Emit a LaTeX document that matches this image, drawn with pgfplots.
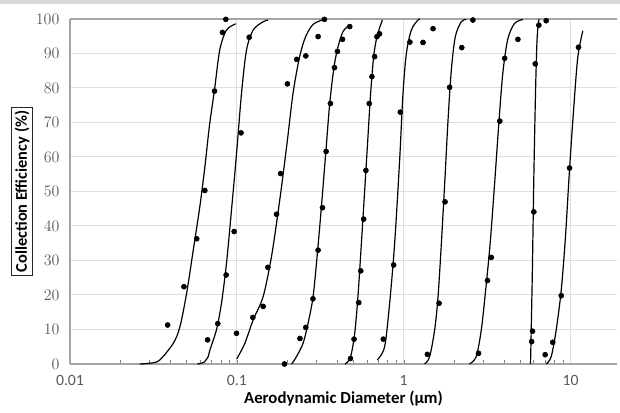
\documentclass[border=0pt]{standalone}
\usepackage{pgfplots}
\pgfplotsset{compat=1.18}
\usepackage{fontspec}
\setmainfont{Carlito}
\definecolor{tickc}{RGB}{89,89,89}
\definecolor{gridc}{RGB}{222,222,222}
\definecolor{axc}{RGB}{165,165,165}
\definecolor{band}{RGB}{215,215,215}
\begin{document}
\begin{tikzpicture}
\useasboundingbox (0,0) rectangle (465pt,309.75pt);
\fill[band] (0,306.75pt) rectangle (465pt,309.75pt);
\begin{axis}[
  at={(52.5pt,36.75pt)}, anchor=south west,
  scale only axis, width=410.25pt, height=258.75pt,
  xmode=log, xmin=0.01, xmax=19, ymin=0, ymax=100,
  ytick={0,10,...,100},
  xtick={0.01,0.1,1,10}, xticklabels={0.01,0.1,1,10},
  minor xtick={},
  major tick length=0pt,
  grid=major, major grid style={draw=gridc, line width=0.75pt},
  axis x line*=bottom, axis y line*=left,
  axis line style={-, draw=axc, line width=0.8pt},
  tick label style={font=\fontsize{11.8}{13}\selectfont, text=tickc},
  yticklabel style={anchor=east, xshift=-4.4pt},
  xticklabel style={anchor=north, yshift=-5.0pt},
  xlabel={Aerodynamic Diameter (µm)},
  ylabel={Collection Efficiency (\%)},
  xlabel style={font=\fontsize{12.6}{14}\selectfont\bfseries, at={(axis description cs:0.5,-0.1014)}, anchor=center},
  ylabel style={font=\fontsize{12.3}{14}\selectfont\bfseries, at={(axis description cs:-0.0878,0.5)}, anchor=center, draw=black!85, line width=0.6pt, inner sep=2.2pt},
  clip=false,
]
\draw[axc, line width=0.8pt] (rel axis cs:0,1) -- (rel axis cs:1,1);
% fitted curves
\addplot[black, line width=0.9pt, smooth, tension=0.5] coordinates {
(0.0262,0) (0.031,0.3) (0.0346,1.2) (0.0416,6.0) (0.0456,10.8) (0.050,20.5) (0.0548,33.0) (0.060,45.6) (0.0643,57.0) (0.0685,69) (0.0735,79.5) (0.079,91) (0.0867,96.8) (0.0986,98.6)};
\addplot[black, line width=0.9pt, smooth, tension=0.5] coordinates {
(0.058,0) (0.0635,0.5) (0.0673,2.1) (0.0689,4) (0.0755,9.9) (0.0809,17.6) (0.0867,29.2) (0.0929,44.6) (0.0996,61) (0.1067,78.5) (0.1143,91) (0.1253,96.8) (0.1437,99.2) (0.154,99.7)};
\addplot[black, line width=0.9pt, smooth, tension=0.5] coordinates {
(0.100,1.5) (0.1117,6) (0.1253,12.8) (0.1437,19.5) (0.1613,31.1) (0.1808,47.5) (0.200,64) (0.2173,78.5) (0.238,89.1) (0.259,95) (0.2875,98.5) (0.335,99.9)};
\addplot[black, line width=0.9pt, smooth, tension=0.5] coordinates {
(0.213,0) (0.2275,2.1) (0.2494,6) (0.2673,11.8) (0.2864,19.5) (0.304,32.1) (0.3214,45.6) (0.341,61) (0.3606,75.6) (0.3828,86.2) (0.4045,92) (0.4335,96.4) (0.4753,98.3)};
\addplot[black, line width=0.9pt, smooth, tension=0.5] coordinates {
(0.445,0) (0.47,1.0) (0.4865,3.1) (0.509,8.9) (0.532,19.5) (0.558,35) (0.584,50.4) (0.611,65.9) (0.634,78.5) (0.661,89.1) (0.692,94.9) (0.745,99.7)};
\addplot[black, line width=0.9pt, smooth, tension=0.5] coordinates {
(0.695,1.2) (0.769,5) (0.824,17.6) (0.883,35) (0.946,59.1) (0.991,78.5) (1.038,90) (1.112,96.8) (1.218,99.7) (1.25,99.9)};
\addplot[black, line width=0.9pt, smooth, tension=0.5] coordinates {
(1.336,0) (1.431,2.1) (1.534,9.9) (1.607,19.5) (1.683,35) (1.762,52.4) (1.845,70.7) (1.931,85.2) (2.04,94.9) (2.215,99.2) (2.373,99.9)};
\addplot[black, line width=0.9pt, smooth, tension=0.5] coordinates {
(2.48,0) (2.72,2.1) (2.92,9.9) (3.10,21.4) (3.30,35) (3.51,52.4) (3.72,69.8) (3.93,84.3) (4.21,94.2) (4.62,98.7) (5.18,99.9)};
\addplot[black, line width=0.9pt, smooth, tension=0.5] coordinates {
(5.76,0) (5.90,25.4) (6.03,54.4) (6.17,78.5) (6.29,93) (6.41,98.7) (6.5,99.9)};
\addplot[black, line width=0.9pt, smooth, tension=0.5] coordinates {
(7.14,0) (7.66,2.1) (8.21,9.9) (8.80,21.4) (9.33,36.9) (9.86,56.2) (10.47,74.6) (11.07,89.1) (11.86,96.6)};
% measured points
\addplot[only marks, mark=*, mark size=1.9pt, black] coordinates {
(0.0385,11.3) (0.0482,22.4) (0.0575,36.3) (0.0643,50.3) (0.0735,79.1) (0.082,96.1) (0.0859,99.9)
(0.0668,7.0) (0.0769,11.7) (0.0863,25.8) (0.0964,38.4) (0.0995,8.9) (0.106,67.0) (0.1186,94.7)
(0.1247,13.5) (0.1438,16.7) (0.1535,28.0) (0.173,43.4) (0.183,55.2) (0.201,81.2) (0.2287,88.3) (0.259,89.3) (0.307,94.9) (0.335,99.9) (0.193,0)
(0.239,7.4) (0.259,10.6) (0.286,18.9) (0.307,33.0) (0.326,45.3) (0.343,61.6) (0.364,75.5) (0.385,85.9) (0.401,90.6) (0.43,94.1) (0.475,97.8)
(0.48,1.6) (0.504,7.2) (0.538,17.8) (0.553,27.0) (0.576,42.0) (0.594,56.1) (0.622,75.5) (0.645,83.3) (0.670,89.1) (0.692,94.9) (0.717,95.7)
(0.755,7.2) (0.871,28.7) (0.955,73.0) (1.09,93.3) (1.306,93.2) (1.50,97.2)
(1.387,2.8) (1.63,17.6) (1.77,47.0) (1.885,80.2) (2.23,91.7) (2.60,99.7)
(2.81,3.1) (3.18,24.2) (3.35,30.9) (3.77,70.4) (4.03,88.6) (4.84,94.1)
(5.85,6.5) (5.92,9.5) (6.03,44.1) (6.15,87.0) (6.46,98.2) (7.15,99.5)
(7.05,2.7) (7.83,6.3) (8.80,19.8) (9.87,56.8) (11.17,91.8)};
\end{axis}
\end{tikzpicture}
\end{document}
